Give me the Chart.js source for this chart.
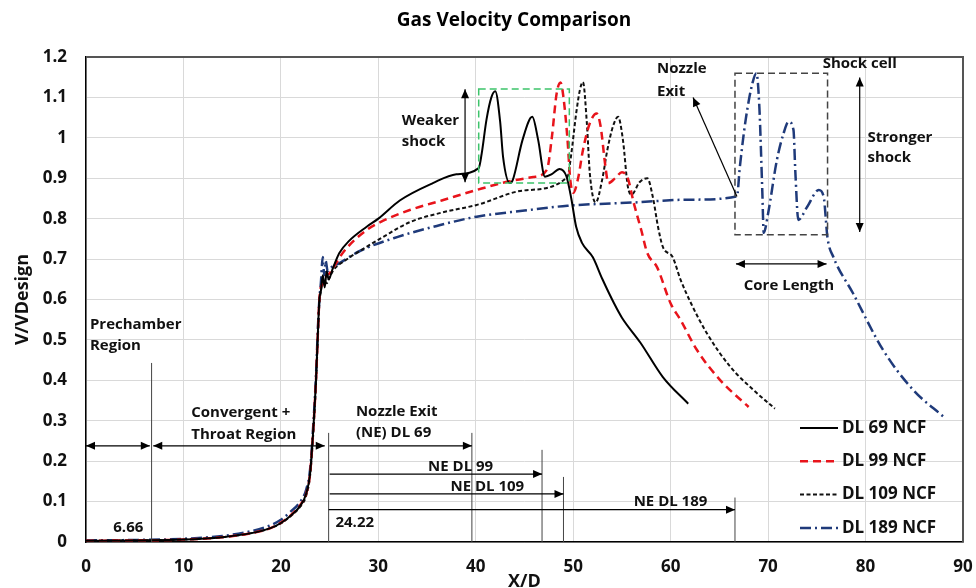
<!DOCTYPE html>
<html>
<head>
<meta charset="utf-8">
<script src="https://cdn.jsdelivr.net/npm/chart.js@4.4.1/dist/chart.umd.min.js"></script>
<style>
  body { margin: 0; background: #fff; }
  #wrap { width: 976px; height: 588px; }
</style>
</head>
<body>
<div id="wrap"><canvas id="velChart" width="976" height="588"></canvas></div>
<script>
        // axis ticks
        const xTicks = [0, 10, 20, 30, 40, 50, 60, 70, 80, 90];
        const yTickLabels = ['0', '0.1', '0.2', '0.3', '0.4', '0.5', '0.6', '0.7', '0.8', '0.9', '1', '1.1', '1.2'];

        // series
        const dl69X = [0, 5, 10, 14, 17, 19, 20, 21, 22, 22.6, 23, 23.3, 23.6, 23.8, 23.95, 24.1, 24.3, 24.5, 24.7, 24.9, 25.3, 26, 27, 28.8, 30, 32.2, 35.6, 38, 40.3, 40.6, 41.1, 41.6, 42, 42.5, 42.8, 43.5, 43.8, 44.8, 45.8, 46.4, 47.1, 47.8, 48.6, 49.3, 49.8, 50.3, 50.9, 52, 53, 54.2, 55, 56.9, 59.2, 61.8];
        const dl69Y = [0.003, 0.004, 0.006, 0.012, 0.022, 0.035, 0.047, 0.065, 0.09, 0.12, 0.17, 0.27, 0.4, 0.52, 0.6, 0.62, 0.66, 0.63, 0.67, 0.65, 0.675, 0.715, 0.745, 0.78, 0.8, 0.845, 0.888, 0.91, 0.925, 0.96, 1.045, 1.1, 1.115, 1.04, 0.953, 0.888, 0.896, 0.995, 1.052, 0.995, 0.904, 0.91, 0.923, 0.905, 0.85, 0.78, 0.74, 0.705, 0.65, 0.59, 0.555, 0.493, 0.408, 0.342];

        const dl99X = [0, 5, 10, 14, 17, 19, 20, 21, 22, 22.6, 23, 23.3, 23.6, 23.8, 23.95, 24.1, 24.4, 24.7, 25, 25.4, 26.5, 28.8, 30.5, 33.3, 36.5, 40.1, 43, 45.9, 47.3, 47.8, 48.3, 48.7, 49, 49.4, 49.7, 50, 50.5, 51, 51.7, 52.4, 52.8, 53.3, 53.6, 54.3, 55, 55.6, 56.2, 57, 57.6, 58.6, 60, 61, 62.7, 65.1, 68];
        const dl99Y = [0.003, 0.004, 0.006, 0.012, 0.022, 0.035, 0.048, 0.066, 0.092, 0.12, 0.17, 0.27, 0.4, 0.52, 0.6, 0.63, 0.64, 0.66, 0.665, 0.68, 0.72, 0.772, 0.795, 0.822, 0.845, 0.871, 0.89, 0.903, 0.921, 1.0, 1.11, 1.137, 1.1, 1.0, 0.896, 0.864, 0.9, 0.97, 1.036, 1.06, 1.03, 0.93, 0.888, 0.9, 0.915, 0.9, 0.84, 0.77, 0.715, 0.68, 0.59, 0.55, 0.475, 0.4, 0.334];

        const dl109X = [0, 5, 10, 14, 17, 19, 20, 21, 22, 22.6, 23, 23.3, 23.6, 23.8, 23.95, 24.1, 24.4, 24.7, 25, 25.4, 26.5, 28.3, 30.5, 33.3, 36.5, 40.1, 45, 49.4, 49.8, 50.3, 50.7, 51, 51.4, 51.7, 52.3, 53, 53.5, 54.1, 54.6, 55.1, 55.6, 56, 56.8, 57.6, 58.2, 58.7, 59.2, 60.2, 61, 62.1, 63.7, 66.1, 68.5, 70.7];
        const dl109Y = [0.003, 0.004, 0.006, 0.012, 0.022, 0.035, 0.046, 0.064, 0.088, 0.115, 0.165, 0.26, 0.39, 0.51, 0.59, 0.62, 0.65, 0.64, 0.655, 0.673, 0.695, 0.723, 0.755, 0.792, 0.815, 0.834, 0.87, 0.903, 0.96, 1.06, 1.12, 1.138, 1.036, 0.913, 0.84, 0.9, 0.97, 1.03, 1.052, 0.995, 0.88, 0.86, 0.89, 0.9, 0.85, 0.78, 0.73, 0.705, 0.65, 0.59, 0.517, 0.434, 0.376, 0.33];

        const dl189X = [0, 5, 10, 14, 17, 19, 20, 21, 22, 22.6, 23, 23.3, 23.6, 23.8, 23.95, 24.1, 24.3, 24.45, 24.6, 24.8, 25.2, 26, 28.1, 32, 36, 40.1, 45, 49.4, 56.2, 62, 66.8, 67.1, 67.7, 68.4, 68.8, 69.1, 69.4, 69.55, 70, 70.9, 71.6, 72.1, 72.6, 72.8, 73.1, 74, 75.2, 75.7, 76.1, 76.7, 78.7, 81.8, 84.9, 88];
        const dl189Y = [0.004, 0.005, 0.008, 0.015, 0.027, 0.042, 0.055, 0.075, 0.1, 0.13, 0.18, 0.28, 0.41, 0.53, 0.6, 0.64, 0.705, 0.66, 0.695, 0.67, 0.68, 0.69, 0.72, 0.755, 0.782, 0.805, 0.82, 0.832, 0.84, 0.847, 0.855, 0.928, 1.045, 1.136, 1.16, 1.077, 0.871, 0.765, 0.813, 0.945, 1.012, 1.04, 1.02, 0.913, 0.797, 0.829, 0.871, 0.854, 0.752, 0.705, 0.616, 0.475, 0.376, 0.31];

        const seriesNames = ['DL 69 NCF', 'DL 99 NCF', 'DL 109 NCF', 'DL 189 NCF'];

        // annotations, in axis units
        const notes = [
            { t: 'Prechamber', x: 0.4, y: 0.537 },
            { t: 'Region', x: 0.4, y: 0.486 },
            { t: '6.66', x: 2.8, y: 0.036 },
            { t: 'Convergent +', x: 10.8, y: 0.319 },
            { t: 'Throat Region', x: 10.8, y: 0.265 },
            { t: 'Nozzle Exit', x: 27.7, y: 0.322 },
            { t: '(NE) DL 69', x: 27.7, y: 0.27 },
            { t: 'NE DL 99', x: 35.1, y: 0.186 },
            { t: 'NE DL 109', x: 37.4, y: 0.136 },
            { t: 'NE DL 189', x: 56.2, y: 0.1 },
            { t: '24.22', x: 25.6, y: 0.047 },
            { t: 'Weaker', x: 32.4, y: 1.042 },
            { t: 'shock', x: 32.4, y: 0.99 },
            { t: 'Nozzle', x: 58.6, y: 1.17 },
            { t: 'Exit', x: 58.6, y: 1.114 },
            { t: 'Shock cell', x: 75.6, y: 1.183 },
            { t: 'Stronger', x: 80.2, y: 1.0 },
            { t: 'shock', x: 80.2, y: 0.95 },
            { t: 'Core Length', x: 67.5, y: 0.634 }
        ];

        // [x0, y0, x1, y1, headAtStart, headAtEnd]
        const arrows = [
            [0, 0.238, 6.55, 0.238, true, true],
            [6.9, 0.238, 24.5, 0.238, true, true],
            [25.0, 0.238, 39.6, 0.238, false, true],
            [25.0, 0.168, 46.8, 0.168, false, true],
            [25.0, 0.119, 49.0, 0.119, false, true],
            [24.9, 0.08, 66.6, 0.08, false, true],
            [38.9, 0.89, 38.9, 1.12, true, true],
            [66.8, 0.855, 62.3, 1.1, false, true],
            [79.4, 0.767, 79.4, 1.149, true, true],
            [66.7, 0.688, 76.0, 0.688, true, true]
        ];

        // thin marker lines [x, yTop]
        const markers = [[6.73, 0.443], [24.9, 0.27], [39.6, 0.27], [46.8, 0.228], [49.0, 0.161], [66.6, 0.11]];

        // dashed boxes [x0, x1, y0, y1, colour]
        const boxes = [[40.3, 49.6, 0.888, 1.121, '#3cc46a'], [66.6, 76.1, 0.76, 1.16, '#444']];

        function pts(xs, ys) {
            return xs.map((x, i) => ({ x: x, y: ys[i] }));
        }

        function head(ctx, x0, y0, x1, y1) {
            const a = Math.atan2(y1 - y0, x1 - x0);
            const L = 9, W = 4;
            ctx.beginPath();
            ctx.moveTo(x1, y1);
            ctx.lineTo(x1 - L * Math.cos(a) + W * Math.sin(a), y1 - L * Math.sin(a) - W * Math.cos(a));
            ctx.lineTo(x1 - L * Math.cos(a) - W * Math.sin(a), y1 - L * Math.sin(a) + W * Math.cos(a));
            ctx.closePath();
            ctx.fill();
        }

        const overlay = {
            id: 'overlay',
            afterDatasetsDraw(chart) {
                const ctx = chart.ctx;
                const sx = chart.scales.x, sy = chart.scales.y;
                const area = chart.chartArea;
                ctx.save();

                // plot border
                ctx.strokeStyle = '#555';
                ctx.lineWidth = 2;
                ctx.beginPath();
                ctx.moveTo(area.left, area.top);
                ctx.lineTo(area.right, area.top);
                ctx.lineTo(area.right, area.bottom);
                ctx.stroke();

                // marker lines
                ctx.strokeStyle = '#444';
                ctx.lineWidth = 1;
                markers.forEach(m => {
                    const px = sx.getPixelForValue(m[0]);
                    ctx.beginPath();
                    ctx.moveTo(px, sy.getPixelForValue(0));
                    ctx.lineTo(px, sy.getPixelForValue(m[1]));
                    ctx.stroke();
                });

                // boxes
                ctx.lineWidth = 1.5;
                ctx.setLineDash([7, 4]);
                boxes.forEach(b => {
                    ctx.strokeStyle = b[4];
                    const l = sx.getPixelForValue(b[0]), r = sx.getPixelForValue(b[1]);
                    const t = sy.getPixelForValue(b[3]), bt = sy.getPixelForValue(b[2]);
                    ctx.strokeRect(l, t, r - l, bt - t);
                });
                ctx.setLineDash([]);

                // arrows
                ctx.strokeStyle = '#000';
                ctx.fillStyle = '#000';
                ctx.lineWidth = 1.2;
                arrows.forEach(a => {
                    const x0 = sx.getPixelForValue(a[0]), y0 = sy.getPixelForValue(a[1]);
                    const x1 = sx.getPixelForValue(a[2]), y1 = sy.getPixelForValue(a[3]);
                    ctx.beginPath();
                    ctx.moveTo(x0, y0);
                    ctx.lineTo(x1, y1);
                    ctx.stroke();
                    if (a[4]) head(ctx, x1, y1, x0, y0);
                    if (a[5]) head(ctx, x0, y0, x1, y1);
                });

                // texts
                ctx.font = "bold 15px 'Open Sans'";
                ctx.textBaseline = 'middle';
                ctx.textAlign = 'left';
                ctx.fillStyle = '#111';
                notes.forEach(n => {
                    ctx.fillText(n.t, sx.getPixelForValue(n.x), sy.getPixelForValue(n.y));
                });

                // title
                ctx.font = "bold 19px 'Open Sans'";
                ctx.textAlign = 'center';
                ctx.fillStyle = '#000';
                ctx.fillText('Gas Velocity Comparison', 514, 21);

                // legend inside the plot, bottom right
                ctx.font = "bold 17px 'Open Sans'";
                ctx.textAlign = 'left';
                chart.data.datasets.forEach((ds, i) => {
                    const y = area.bottom - 114 + i * 33.3;
                    ctx.strokeStyle = ds.borderColor;
                    ctx.lineWidth = ds.borderWidth;
                    ctx.setLineDash(ds.borderDash || []);
                    ctx.beginPath();
                    ctx.moveTo(area.right - 163, y);
                    ctx.lineTo(area.right - 125, y);
                    ctx.stroke();
                    ctx.setLineDash([]);
                    ctx.fillStyle = '#111';
                    ctx.fillText(ds.label, area.right - 121, y);
                });
                ctx.restore();
            }
        };

        function lineSet(label, xs, ys, color, dash, width) {
            return {
                label: label,
                data: pts(xs, ys),
                showLine: true,
                borderColor: color,
                backgroundColor: color,
                borderWidth: width,
                borderDash: dash,
                pointRadius: 0,
                cubicInterpolationMode: 'monotone',
                fill: false
            };
        }

        let velChart;

        function initChart() {
            Chart.defaults.font.family = "'Open Sans', sans-serif";
            const ctx = document.getElementById('velChart').getContext('2d');

            velChart = new Chart(ctx, {
                type: 'scatter',
                data: {
                    datasets: [
                        lineSet(seriesNames[0], dl69X, dl69Y, '#000000', [], 2),
                        lineSet(seriesNames[1], dl99X, dl99Y, '#e8141b', [8, 5], 2.5),
                        lineSet(seriesNames[2], dl109X, dl109Y, '#111111', [4, 2.5], 2),
                        lineSet(seriesNames[3], dl189X, dl189Y, '#1f3a7a', [11, 4, 2, 4], 2.5)
                    ]
                },
                options: {
                    responsive: false,
                    animation: false,
                    layout: { padding: { top: 57, right: 0, left: 0, bottom: 0 } },
                    plugins: {
                        legend: { display: false },
                        tooltip: { enabled: false }
                    },
                    scales: {
                        x: {
                            type: 'linear',
                            min: xTicks[0],
                            max: xTicks[xTicks.length - 1],
                            afterBuildTicks: s => { s.ticks = xTicks.map(v => ({ value: v })); },
                            afterFit: s => { s.height = 46; s.paddingLeft = 0; s.paddingRight = 13; },
                            ticks: { color: '#111', padding: 15, font: { size: 17, weight: 'bold' } },
                            grid: { color: '#d9d9d9', drawTicks: false },
                            border: { color: '#000', width: 1.5 },
                            title: { display: true, text: 'X/D', color: '#111', padding: { top: 0, bottom: -5 }, font: { size: 18, weight: 'bold' } }
                        },
                        y: {
                            min: 0,
                            max: 1.2,
                            afterBuildTicks: s => { s.ticks = yTickLabels.map(v => ({ value: parseFloat(v) })); },
                            afterFit: s => { s.width = 86; },
                            ticks: {
                                color: '#111',
                                padding: 19,
                                font: { size: 17, weight: 'bold' },
                                callback: function (v, i) { return yTickLabels[i]; }
                            },
                            grid: { color: '#d9d9d9', drawTicks: false },
                            border: { color: '#000', width: 1.5 },
                            title: { display: true, text: 'V/VDesign', color: '#111', padding: { top: 12, bottom: 0 }, font: { size: 18, weight: 'bold' } }
                        }
                    }
                },
                plugins: [overlay]
            });
        }

        window.onload = function () {
            initChart();
        };
</script>
</body>
</html>
